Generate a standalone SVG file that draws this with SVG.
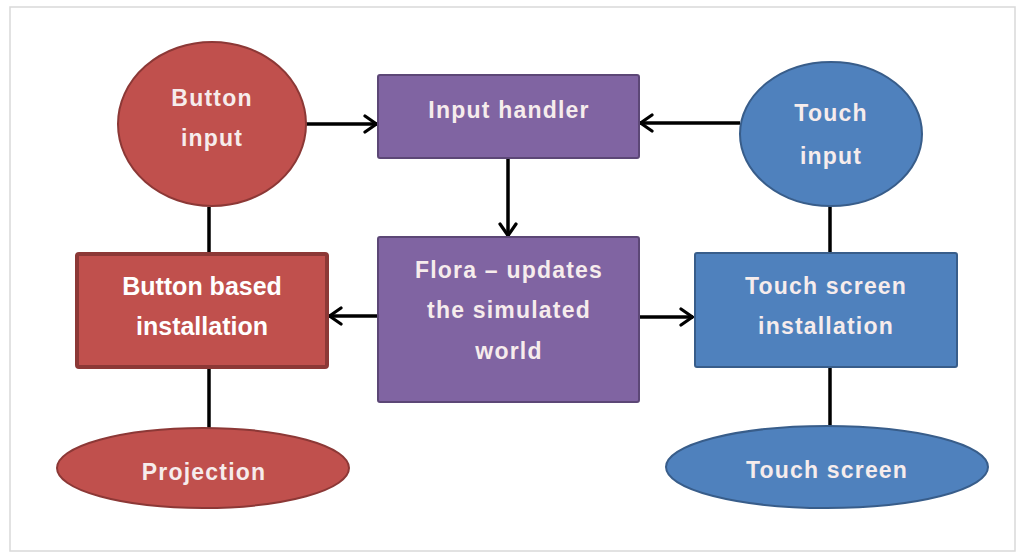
<svg xmlns="http://www.w3.org/2000/svg" width="1022" height="554" viewBox="0 0 1022 554">
<defs>
<marker id="arr" viewBox="0 0 16 20" refX="14.5" refY="10" markerWidth="16" markerHeight="20" markerUnits="userSpaceOnUse" orient="auto">
<path d="M2.5,2 L14,10 L2.5,18" fill="none" stroke="#000" stroke-width="3.2" stroke-linecap="round" stroke-linejoin="round"/>
</marker>
<style>
.red{fill:#C0504D;stroke:#8C3836;stroke-width:2}
.redb{fill:#C0504D;stroke:#8C3836;stroke-width:4}
.pur{fill:#8064A2;stroke:#5C4776;stroke-width:2}
.blu{fill:#4F81BD;stroke:#385D8A;stroke-width:2}
.t{font-family:"Liberation Sans",Arial,sans-serif;font-weight:bold;font-size:23px;fill:#F6ECEC;text-anchor:middle;letter-spacing:1.2px}
.tb{font-family:"Liberation Sans",Arial,sans-serif;font-weight:bold;font-size:25px;fill:#FFFFFF;text-anchor:middle}
.c{stroke:#000;stroke-width:3.5;fill:none}
</style>
</defs>
<rect x="10" y="7" width="1005" height="544" fill="#fff" stroke="#D9D9D9" stroke-width="1.5"/>
<g id="connectors">
<line class="c" x1="306" y1="124" x2="377" y2="124" marker-end="url(#arr)"/>
<line class="c" x1="740" y1="123" x2="640" y2="123" marker-end="url(#arr)"/>
<line class="c" x1="508" y1="158" x2="508" y2="236" marker-end="url(#arr)"/>
<line class="c" x1="378" y1="316" x2="329" y2="316" marker-end="url(#arr)"/>
<line class="c" x1="639" y1="317" x2="693" y2="317" marker-end="url(#arr)"/>
<line class="c" x1="209" y1="207" x2="209" y2="253"/>
<line class="c" x1="209" y1="368" x2="209" y2="429"/>
<line class="c" x1="830" y1="206" x2="830" y2="253"/>
<line class="c" x1="830" y1="367" x2="830" y2="426"/>
</g>
<g id="button-input">
<ellipse class="red" cx="212" cy="124" rx="94" ry="82"/>
<text class="t" x="212" y="106">Button</text>
<text class="t" x="212" y="146">input</text>
</g>
<g id="input-handler">
<rect class="pur" x="378" y="75" width="261" height="83" rx="2"/>
<text class="t" x="509" y="118">Input handler</text>
</g>
<g id="touch-input">
<ellipse class="blu" cx="831" cy="134" rx="91" ry="72"/>
<text class="t" x="831" y="121">Touch</text>
<text class="t" x="831" y="164">input</text>
</g>
<g id="flora">
<rect class="pur" x="378" y="237" width="261" height="165" rx="2"/>
<text class="t" x="509" y="278">Flora – updates</text>
<text class="t" x="509" y="318">the simulated</text>
<text class="t" x="509" y="359">world</text>
</g>
<g id="button-based-installation">
<rect class="redb" x="77" y="254" width="250" height="113" rx="2"/>
<text class="tb" x="202" y="295">Button based</text>
<text class="tb" x="202" y="335">installation</text>
</g>
<g id="touch-screen-installation">
<rect class="blu" x="695" y="253" width="262" height="114" rx="2"/>
<text class="t" x="826" y="294">Touch screen</text>
<text class="t" x="826" y="334">installation</text>
</g>
<g id="projection">
<ellipse class="red" cx="203" cy="468" rx="146" ry="40"/>
<text class="t" x="204" y="480">Projection</text>
</g>
<g id="touch-screen">
<ellipse class="blu" cx="827" cy="467" rx="161" ry="41"/>
<text class="t" x="827" y="478">Touch screen</text>
</g>
</svg>
